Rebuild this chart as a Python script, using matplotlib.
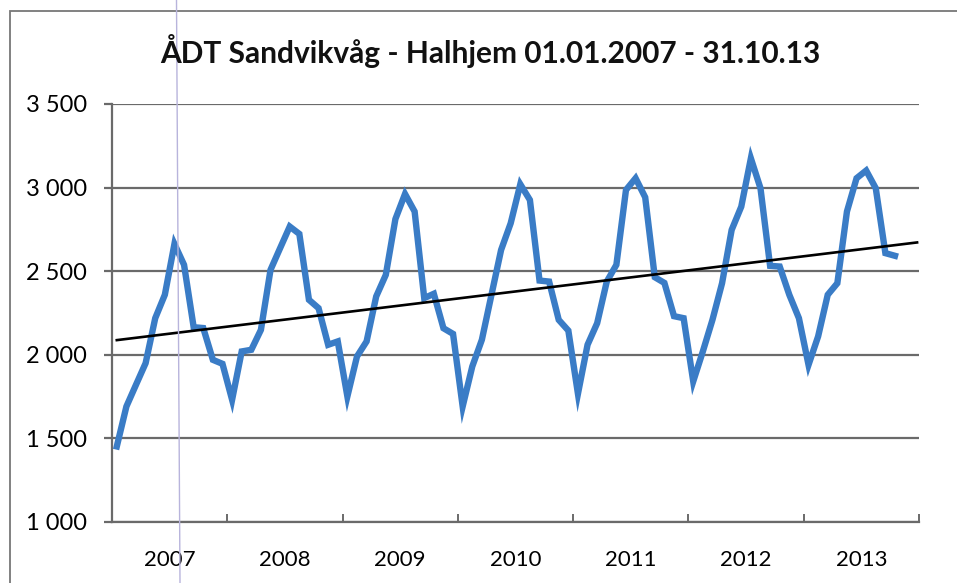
import numpy as np
import matplotlib
matplotlib.use('Agg')
import matplotlib.pyplot as plt
from matplotlib.patches import Rectangle
from matplotlib.lines import Line2D

plt.rcParams['font.family'] = ['Lato', 'DejaVu Sans']

# ÅDT per måned, jan 2007 - okt 2013
adt = [1452, 1691, 1821, 1950, 2219, 2359, 2663, 2538, 2165, 2160, 1970, 1946,
       1731, 2020, 2030, 2149, 2508, 2638, 2767, 2723, 2329, 2279, 2060, 2080,
       1751, 1990, 2080, 2349, 2478, 2812, 2962, 2857, 2339, 2365, 2159, 2125,
       1691, 1930, 2090, 2359, 2627, 2787, 3020, 2926, 2444, 2438, 2209, 2145,
       1767, 2060, 2189, 2438, 2538, 2986, 3056, 2942, 2464, 2430, 2231, 2219,
       1841, 2020, 2209, 2428, 2747, 2886, 3175, 2996, 2532, 2528, 2359, 2219,
       1940, 2110, 2359, 2428, 2857, 3056, 3102, 2996, 2608, 2592]
years = ['2007', '2008', '2009', '2010', '2011', '2012', '2013']
yticks = [1000, 1500, 2000, 2500, 3000, 3500]

W, H = 957, 583
fig = plt.figure(figsize=(W / 100, H / 100), dpi=100)
ax = fig.add_axes([112 / W, 1 - 522 / H, (919 - 112) / W, (522 - 104) / H])

x = np.arange(len(adt)) + 0.5
ax.plot(x, adt, color='#3a7cc6', lw=4.6, solid_joinstyle='miter', zorder=3)

# lineær trendlinje, forlenget litt fram
k, b = np.polyfit(np.arange(len(adt)), adt, 1)
xt = np.array([0, len(adt) - 1 + 2.3])
ax.plot(xt + 0.5, k * xt + b, color='black', lw=1.9, zorder=4)

ax.set_xlim(0, 12 * len(years))
ax.set_ylim(1000, 3500)
ax.set_yticks(yticks)
ax.set_yticklabels([f'{v:,}'.replace(',', ' ') for v in yticks], fontsize=17)
ax.yaxis.grid(True, color='#6a6a6a', lw=1.6)
ax.tick_params(axis='y', length=6, width=1.6, color='#6a6a6a', pad=12)

ax.set_xticks(np.arange(12, 12 * len(years) + 1, 12))
ax.set_xticklabels([])
ax.set_xticks(np.arange(6, 12 * len(years), 12), minor=True)
ax.set_xticklabels(years, minor=True, fontsize=16)
ax.tick_params(axis='x', which='major', direction='in', length=6, width=1.4, color='#6a6a6a')
ax.tick_params(axis='x', which='minor', length=0, pad=20)

for s in ['top', 'right']:
    ax.spines[s].set_visible(False)
for s in ['left', 'bottom']:
    ax.spines[s].set_color('#6a6a6a')
    ax.spines[s].set_linewidth(1.6)

fig.text(490 / W, 1 - 51 / H, 'ÅDT Sandvikvåg - Halhjem 01.01.2007 - 31.10.13',
         ha='center', va='center', fontsize=21.5, fontweight='bold', color='#111111')

# ramme rundt diagrammet og skannestrek
fig.patches.append(Rectangle((10 / W, -0.1), 1.2, 1 - 11 / H + 0.1, transform=fig.transFigure,
                             fill=False, ec='#777777', lw=1.3))
fig.lines.append(Line2D([176.5 / W, 180 / W], [1, 0], transform=fig.transFigure,
                        color='#b8b4dc', lw=1.0))

fig.savefig('out.png', dpi=100)
